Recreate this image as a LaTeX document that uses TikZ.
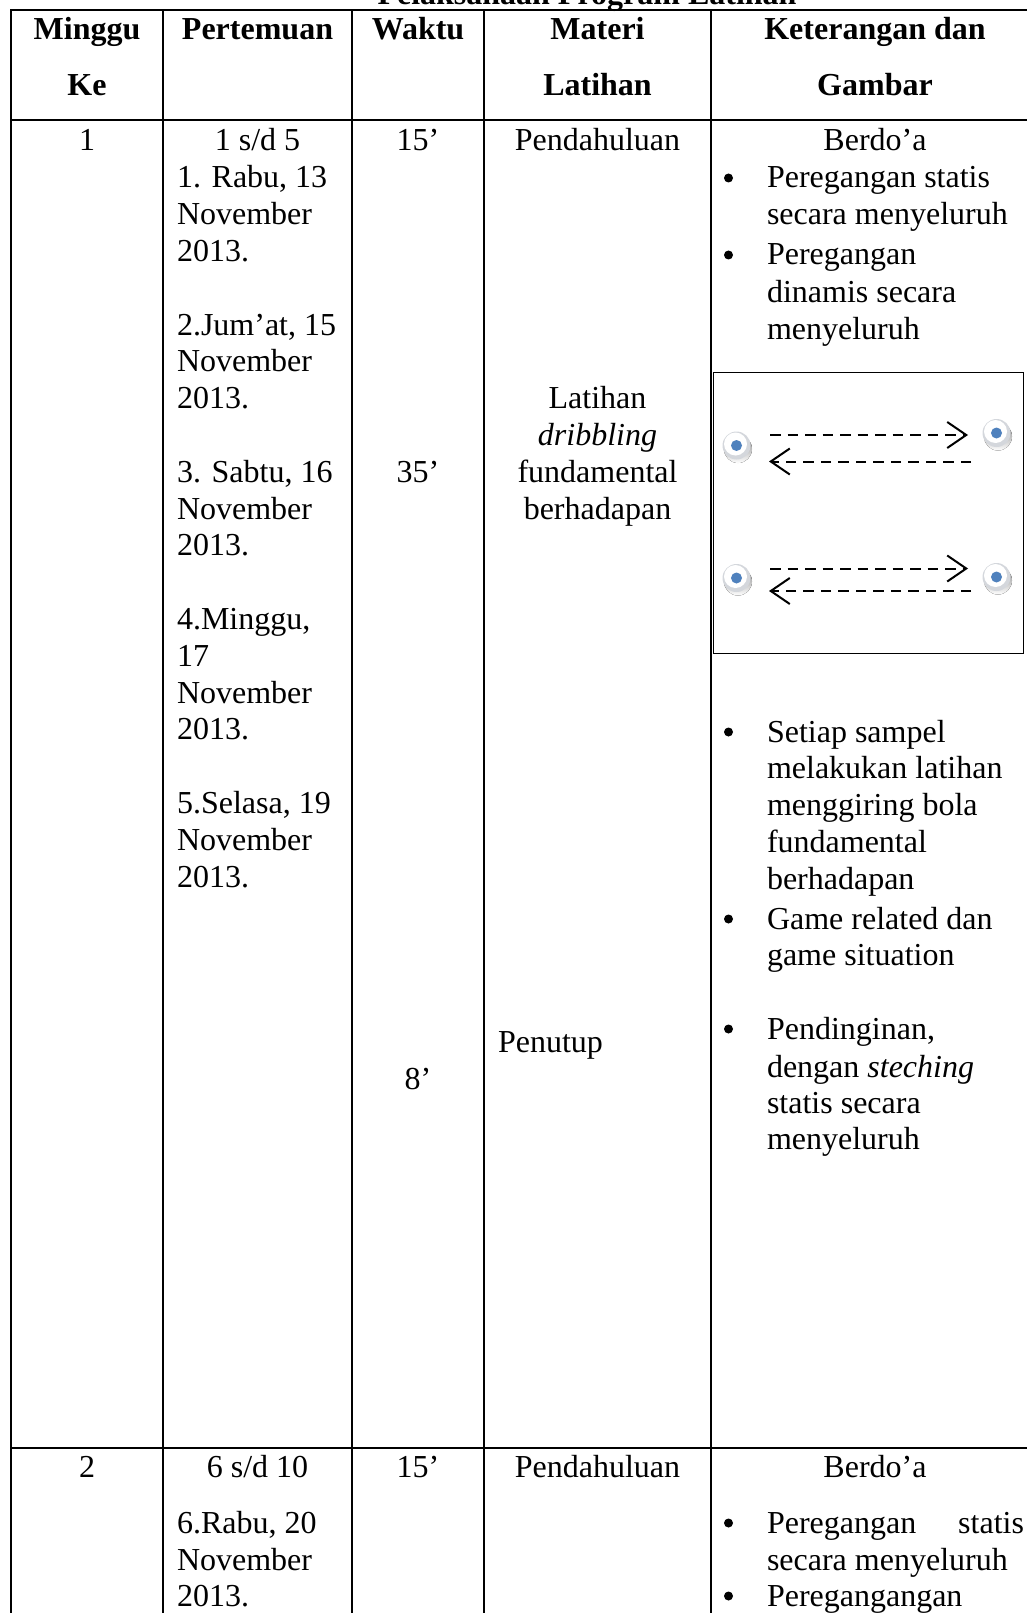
\documentclass[tikz,border=0pt]{standalone}
\usepackage{fontspec}
\setmainfont{Liberation Serif}
\usetikzlibrary{arrows.meta,calc}
\definecolor{dotblue}{HTML}{4F81BD}
\definecolor{shade}{HTML}{95A1B5}
\definecolor{disc}{HTML}{D4D7DC}
\tikzset{
  grid/.style={line width=2.6pt, line cap=rect},
  txt/.style={inner sep=0pt, outer sep=0pt, font=\fontsize{32}{36.8}\selectfont},
  hdr/.style={txt, font=\fontsize{32}{36.8}\selectfont\bfseries, anchor=base},
  ctr/.style={txt, anchor=base},
  lft/.style={txt, anchor=base west},
  bul/.style={circle, fill=black, inner sep=0pt, minimum size=9pt},
  flow/.style={line width=2pt, dash pattern=on 10.5pt off 7pt, -{Straight Barb[length=19pt,width=26pt,line width=2pt]}},
  framebox/.style={line width=1.6pt}
}
\newcommand{\cone}[2]{%
  \fill[shade] ($(#1)+(1.5,3.5)$) circle (14);
  \fill[disc] (#1) circle (14);
  \fill[white] ($(#1)+(-1,-1.5)$) circle (11.5);
  \fill[dotblue] (#1) circle (5.5);
  \coordinate (#2) at (#1);
}
\begin{document}
\begin{tikzpicture}[x=1pt,y=-1pt]
\useasboundingbox (0,0) rectangle (1027,1613);
% title (cut off at top)
\node[hdr] (title) at (587,4.5) {Pelaksanaan Program Latihan};
% grid
\draw[grid] (11,10) -- (1045,10);
\draw[grid] (11,120) -- (1045,120);
\draw[grid] (11,1448) -- (1045,1448);
\draw[grid] (11,10) -- (11,1620);
\draw[grid] (163,10) -- (163,1620);
\draw[grid] (352,10) -- (352,1620);
\draw[grid] (484,10) -- (484,1620);
\draw[grid] (711,10) -- (711,1620);
% header
\node[hdr] (h1a) at (87,39.5) {Minggu};
\node[hdr] (h1b) at (87,96) {Ke};
\node[hdr] (h2) at (257.5,39.5) {Pertemuan};
\node[hdr] (h3) at (418,39.5) {Waktu};
\node[hdr] (h4a) at (597.5,39.5) {Materi};
\node[hdr] (h4b) at (597.5,96) {Latihan};
\node[hdr] (h5a) at (875,39.5) {Keterangan dan};
\node[hdr] (h5b) at (875,96) {Gambar};
% row 1
\node[ctr] (r1) at (87,151) {1};
\node[ctr] (p0) at (257.5,151) {1 s/d 5};
\node[lft] (p1) at (177,187.8) {1. Rabu, 13};
\node[lft] (p2) at (177,224.6) {November};
\node[lft] (p3) at (177,261.4) {2013.};
\node[lft] (p5) at (177,335) {2.Jum’at, 15};
\node[lft] (p6) at (177,371.8) {November};
\node[lft] (p7) at (177,408.6) {2013.};
\node[lft] (p9) at (177,482.2) {3. Sabtu, 16};
\node[lft] (p10) at (177,519) {November};
\node[lft] (p11) at (177,555.8) {2013.};
\node[lft] (p13) at (177,629.4) {4.Minggu,};
\node[lft] (p14) at (177,666.2) {17};
\node[lft] (p15) at (177,703) {November};
\node[lft] (p16) at (177,739.8) {2013.};
\node[lft] (p18) at (177,813.4) {5.Selasa, 19};
\node[lft] (p19) at (177,850.2) {November};
\node[lft] (p20) at (177,887) {2013.};
\node[ctr] (w1) at (418,151) {15’};
\node[ctr] (w2) at (418,482.2) {35’};
\node[ctr] (w3) at (418,1089.6) {8’};
\node[ctr] (m1) at (597.5,151) {Pendahuluan};
\node[ctr] (m2) at (597.5,408.6) {Latihan};
\node[ctr] (m3) at (597.5,445.4) {\itshape dribbling};
\node[ctr] (m4) at (597.5,482.2) {fundamental};
\node[ctr] (m5) at (597.5,519) {berhadapan};
\node[lft] (m6) at (498,1052.5) {Penutup};
\node[ctr] (k0) at (875,151) {Berdo’a};
\node[bul] (b1) at (728.5,178) {};
\node[lft] (k1) at (767,188) {Peregangan statis};
\node[lft] (k2) at (767,225) {secara menyeluruh};
\node[bul] (b2) at (728.5,255) {};
\node[lft] (k3) at (767,265) {Peregangan};
\node[lft] (k4) at (767,302) {dinamis secara};
\node[lft] (k5) at (767,339) {menyeluruh};
% drawing box
\draw[framebox] (713.5,372.5) rectangle (1023.5,653.5);
\cone{736.5,445.5}{c1}
\cone{996.5,433}{c2}
\cone{736.5,578}{c3}
\cone{996.5,577}{c4}
\coordinate (a1s) at (770,435); \coordinate (a1e) at (968,435);
\coordinate (a2s) at (971,461.5); \coordinate (a2e) at (769,461.5);
\coordinate (a3s) at (770,568.5); \coordinate (a3e) at (968,568.5);
\coordinate (a4s) at (971,591); \coordinate (a4e) at (769,591);
\draw[flow] (a1s) -- (a1e);
\draw[flow] (a2s) -- (a2e);
\draw[flow] (a3s) -- (a3e);
\draw[flow] (a4s) -- (a4e);
% lower bullets
\node[bul] (b3) at (728.5,732) {};
\node[lft] (k6) at (767,742) {Setiap sampel};
\node[lft] (k7) at (767,778) {melakukan latihan};
\node[lft] (k8) at (767,815) {menggiring bola};
\node[lft] (k9) at (767,852) {fundamental};
\node[lft] (k10) at (767,889) {berhadapan};
\node[bul] (b4) at (728.5,919) {};
\node[lft] (k11) at (767,929) {Game related dan};
\node[lft] (k12) at (767,965) {game situation};
\node[bul] (b5) at (728.5,1029) {};
\node[lft] (k13) at (767,1039) {Pendinginan,};
\node[lft] (k14) at (767,1077) {dengan \textit{steching}};
\node[lft] (k15) at (767,1113) {statis secara};
\node[lft] (k16) at (767,1149) {menyeluruh};
% row 2
\node[ctr] (r2) at (87,1477.5) {2};
\node[ctr] (q0) at (257.5,1477.5) {6 s/d 10};
\node[lft] (q1) at (177,1533) {6.Rabu, 20};
\node[lft] (q2) at (177,1570) {November};
\node[lft] (q3) at (177,1606) {2013.};
\node[ctr] (w4) at (418,1477.5) {15’};
\node[ctr] (m7) at (597.5,1477.5) {Pendahuluan};
\node[ctr] (k17) at (875,1477.5) {Berdo’a};
\node[bul] (b6) at (728.5,1523) {};
\node[lft] (k18) at (767,1533) {Peregangan};
\node[txt, anchor=base east] (k18b) at (1024,1533) {statis};
\node[lft] (k19) at (767,1570) {secara menyeluruh};
\node[bul] (b7) at (728.5,1596) {};
\node[lft] (k20) at (767,1606) {Peregangangan};
\end{tikzpicture}
\end{document}
